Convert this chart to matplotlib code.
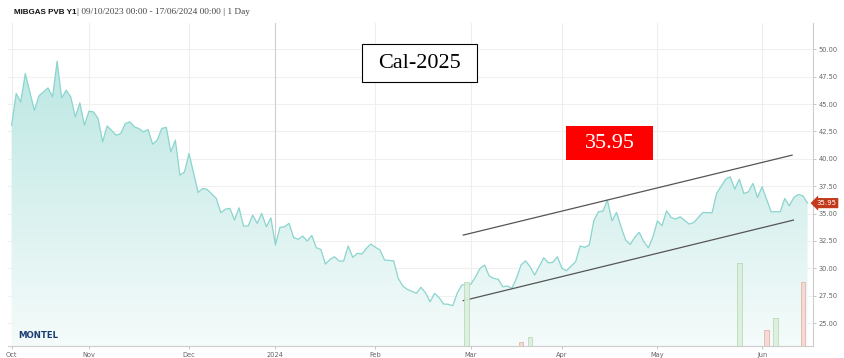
import numpy as np
import matplotlib
matplotlib.use("Agg")
import matplotlib.pyplot as plt
from matplotlib.patches import Rectangle
from matplotlib.transforms import blended_transform_factory

# trading-session index (0 = 09/10/2023) and settlement price
session = [0, 1, 2, 3, 5, 6, 8, 9, 10, 11, 12, 13, 14, 15, 16, 17, 18, 19, 20, 21,
           23, 24, 25, 26, 27, 28, 29, 30, 31, 32, 33, 34, 35, 36, 37, 38, 39, 41, 42, 43,
           45, 46, 47, 48, 49, 50, 51, 52, 53, 54, 55, 56, 57, 58, 59, 60, 61, 62, 63, 64,
           65, 66, 67, 68, 69, 70, 71, 72, 73, 74, 75, 76, 77, 78, 79, 80, 81, 82, 84, 85,
           86, 87, 89, 90, 91, 92, 93, 94, 95, 96, 97, 98, 99, 101, 102, 103, 104, 105, 106, 107,
           108, 109, 110, 111, 112, 113, 114, 115, 117, 118, 119, 120, 121, 122, 123, 124, 125, 126, 127, 128,
           129, 130, 131, 132, 133, 134, 135, 136, 137, 138, 139, 140, 141, 142, 143, 144, 145, 146, 147, 149,
           150, 152, 154, 155, 157, 158, 159, 160, 161, 162, 163, 164, 165, 167, 169, 170, 171, 172, 173, 174,
           175]
price = [43.07, 45.96, 45.19, 47.78, 44.43, 45.74, 46.47, 45.65, 48.91, 45.56, 46.26, 45.65, 43.82, 45.10, 43.07, 44.34, 44.28, 43.68, 41.54, 43.00,
         42.15, 42.31, 43.22, 43.37, 42.91, 42.76, 42.45, 42.67, 41.33, 41.70, 42.76, 42.88, 40.63, 41.70, 38.50, 38.80, 40.48, 36.93, 37.29, 37.20,
         36.38, 35.06, 35.40, 35.47, 34.40, 35.52, 33.85, 33.85, 34.85, 34.10, 35.01, 33.79, 34.61, 32.12, 33.73, 33.79, 34.10, 32.82, 32.64, 32.94,
         32.48, 33.00, 31.87, 31.72, 30.38, 30.81, 31.05, 30.66, 30.66, 32.03, 31.00, 31.36, 31.30, 31.82, 32.21, 31.91, 31.66, 30.75, 30.68, 29.08,
         28.38, 28.07, 27.71, 28.26, 27.76, 26.94, 27.71, 27.31, 26.73, 26.71, 26.58, 27.76, 28.47, 28.56, 29.22, 29.99, 30.29, 29.29, 29.08, 28.99,
         28.31, 28.38, 28.17, 29.08, 30.29, 30.68, 30.14, 29.38, 30.96, 30.50, 30.54, 31.05, 29.99, 29.77, 30.20, 30.59, 32.03, 31.91, 32.12, 34.33,
         35.16, 35.22, 36.22, 34.33, 35.10, 33.79, 32.57, 32.18, 32.82, 33.28, 32.42, 31.87, 32.87, 34.33, 33.88, 35.25, 34.64, 34.49, 34.70, 34.03,
         34.19, 35.10, 35.06, 36.83, 38.14, 38.35, 37.23, 38.14, 36.83, 36.98, 37.75, 36.47, 37.44, 35.16, 35.16, 36.38, 35.70, 36.47, 36.74, 36.61,
         35.95]

# volume bars (relative units)
vol_session = [100, 112, 114, 160, 166, 168, 174]
vol_value = [255, 17, 35, 331, 64, 113, 256]
vol_up = [True, False, True, True, False, True, False]

# hand-drawn channel lines
upper_x = [99.3, 171.6]
upper_y = [33.03, 40.33]
lower_x = [99.3, 171.9]
lower_y = [27.04, 34.40]

month_pos = [0, 17, 39, 58, 80, 101, 121, 142, 165]
month_lab = ["Oct", "Nov", "Dec", "2024", "Feb", "Mar", "Apr", "May", "Jun"]
y_ticks = [25, 27.5, 30, 32.5, 35, 37.5, 40, 42.5, 45, 47.5, 50]

last_price = price[-1]
ymin, ymax = 22.9, 52.4
xmin, xmax = -0.8, 176.2

W, H = 845, 358
fig = plt.figure(figsize=(W / 100, H / 100), dpi=100)
ax = fig.add_axes([8 / W, 12 / H, 805 / W, 323 / H])
ax.set_xlim(xmin, xmax)
ax.set_ylim(ymin, ymax)

# grid
for y in y_ticks:
    ax.axhline(y, color="#f0f0f0", lw=0.8, zorder=0)
for p, lab in zip(month_pos, month_lab):
    ax.axvline(p, color="#cfcfcf" if lab == "2024" else "#eeeeee", lw=0.8, zorder=0)

# gradient area under the line
teal = np.array([0.50, 0.82, 0.79])
alpha = np.linspace(0.58, 0.08, 256)[:, None, None]
grad = (1 - alpha) * np.ones((256, 1, 3)) + alpha * teal
poly = ax.fill_between(session, price, ymin, color="none", lw=0)
im = ax.imshow(grad, extent=[xmin, xmax, ymin, ymax], aspect="auto",
               origin="upper", zorder=1)
im.set_clip_path(poly.get_paths()[0], transform=ax.transData)
ax.plot(session, price, color="#8ad5ce", lw=0.9, zorder=3)

# channel lines
ax.plot(upper_x, upper_y, color="#555555", lw=0.9, zorder=4)
ax.plot(lower_x, lower_y, color="#555555", lw=0.9, zorder=4)

# volume on a hidden twin axis
ax2 = ax.twinx()
ax2.set_ylim(0, 1292)
ax2.set_yticks([])
for s in ax2.spines.values():
    s.set_visible(False)
for xs, v, up in zip(vol_session, vol_value, vol_up):
    fc = "#dcefdc" if up else "#f5d6d0"
    ec = "#b5d8b5" if up else "#e2b0a6"
    ax2.bar(xs, v, width=1.0, color=fc, edgecolor=ec, lw=0.6, alpha=0.9)

# axes styling
ax.yaxis.tick_right()
ax.set_yticks(y_ticks)
ax.set_yticklabels([f"{t:.2f}" for t in y_ticks])
ax.set_xticks(month_pos)
ax.set_xticklabels(month_lab)
ax.tick_params(axis="both", labelsize=4.8, colors="#bbbbbb", labelcolor="#666666",
               length=2, width=0.6, pad=2)
for side in ["top", "left"]:
    ax.spines[side].set_visible(False)
for side in ["right", "bottom"]:
    ax.spines[side].set_color("#cccccc")
    ax.spines[side].set_linewidth(0.8)

# last price tag
tr = blended_transform_factory(ax.transAxes, ax.transData)
ax2.text(1.004, last_price, f"{last_price:.2f}", transform=tr, fontsize=5.0, color="white",
         ha="left", va="center", zorder=10, clip_on=False,
         bbox=dict(boxstyle="larrow,pad=0.3", fc="#c2391b", ec="none"))

# header
fig.text(14 / W, 1 - 12 / H, "MIBGAS PVB Y1", fontsize=5.8, fontweight="bold",
         family="Liberation Sans", va="center", ha="left", color="#111111")
fig.text(77 / W, 1 - 12 / H, "| 09/10/2023 00:00 - 17/06/2024 00:00 | 1 Day",
         fontsize=6.7, family="Liberation Serif", va="center", ha="left", color="#444444")

# annotation boxes
fig.add_artist(Rectangle((362 / W, 1 - 82 / H), 115 / W, 38 / H, transform=fig.transFigure,
                         fc="white", ec="black", lw=0.8, zorder=20))
fig.text(419.5 / W, 1 - 63 / H, "Cal-2025", fontsize=16, family="Liberation Serif",
         ha="center", va="center", color="black", zorder=21)
fig.add_artist(Rectangle((566 / W, 1 - 160 / H), 87 / W, 34 / H, transform=fig.transFigure,
                         fc="#ff0000", ec="none", zorder=20))
fig.text(609.5 / W, 1 - 143 / H, f"{last_price:.2f}", fontsize=16, family="Liberation Serif",
         ha="center", va="center", color="white", zorder=21)

# logo
fig.text(18 / W, 1 - 336 / H, "MONTEL", fontsize=6.2, fontweight="bold",
         family="DejaVu Sans", color="#1c3f73", ha="left", va="center")

fig.savefig("out.png", dpi=100)
